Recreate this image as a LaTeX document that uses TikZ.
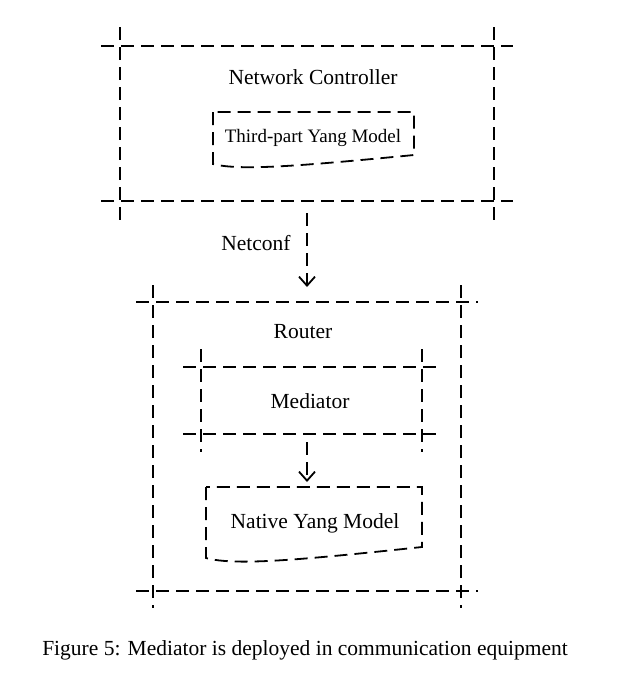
\documentclass[tikz,border=0pt]{standalone}
\usepackage{fontspec}
\setmainfont{Liberation Serif}
\usetikzlibrary{arrows.meta,calc}
\tikzset{
  dl/.style={line width=1.8pt, dash pattern=on 13pt off 7pt},
  lbl/.style={font=\fontsize{21.5}{24}\selectfont, inner sep=0pt},
  slbl/.style={font=\fontsize{19}{22}\selectfont, inner sep=0pt},
  area/.style={draw=none, inner sep=0pt, outer sep=0pt},
  conn/.style={dl, -{Straight Barb[length=9pt,width=16pt,line width=1.8pt]}},
}
\newcommand\mycrossbox[2]{%
  \draw[dl] ($(#1.north west)+(-#2,0)$) -- ($(#1.north east)+(#2,0)$);
  \draw[dl] ($(#1.south west)+(-#2,0)$) -- ($(#1.south east)+(#2,0)$);
  \draw[dl] ($(#1.north west)+(0,-#2)$) -- ($(#1.south west)+(0,#2)$);
  \draw[dl] ($(#1.north east)+(0,-#2)$) -- ($(#1.south east)+(0,#2)$);
}
\begin{document}
\begin{tikzpicture}[x=1pt,y=-1pt]
\useasboundingbox (0,0) rectangle (633,683);
% Network controller
\node[area, minimum width=374pt, minimum height=155pt] (nc) at (307,123.5) {};
\mycrossbox{nc}{19}
\node[lbl] (nctext) at (313,77) {Network Controller};
\draw[dl] (213,112) -- (213,164) .. controls (240,171) and (300,166) .. (414,155) -- (414,112) -- cycle;
\node[slbl] (tp) at (313,138) {Third-part Yang Model};
% Router
\node[area, minimum width=308pt, minimum height=289pt] (rt) at (307,446.5) {};
\mycrossbox{rt}{17}
\node[lbl] (rttext) at (303,332) {Router};
% Mediator
\node[area, minimum width=221pt, minimum height=67pt] (med) at (311.5,400.5) {};
\mycrossbox{med}{18}
\node[lbl] (medtext) at (310,401) {Mediator};
% Native
\node[area, minimum width=216pt, minimum height=60pt] (nat) at (314,517) {};
\draw[dl] (nat.north west) -- (206,558) .. controls (235,566) and (300,560) .. (422,547) -- (nat.north east) -- cycle;
\node[lbl] (nattext) at (315,523) {Native Yang Model};
% connectors
\draw[conn] ($(nc.south)+(0,12)$) -- ($(rt.north)+(0,-15)$);
\node[lbl] (netconf) at (256,243) {Netconf};
\draw[conn] ($(med.south)+(-4.5,8)$) -- ($(nat.north)+(-7,-5)$);
% caption
\node[lbl] (cap) at (305,650) {Figure 5: Mediator is deployed in communication equipment};
\end{tikzpicture}
\end{document}
